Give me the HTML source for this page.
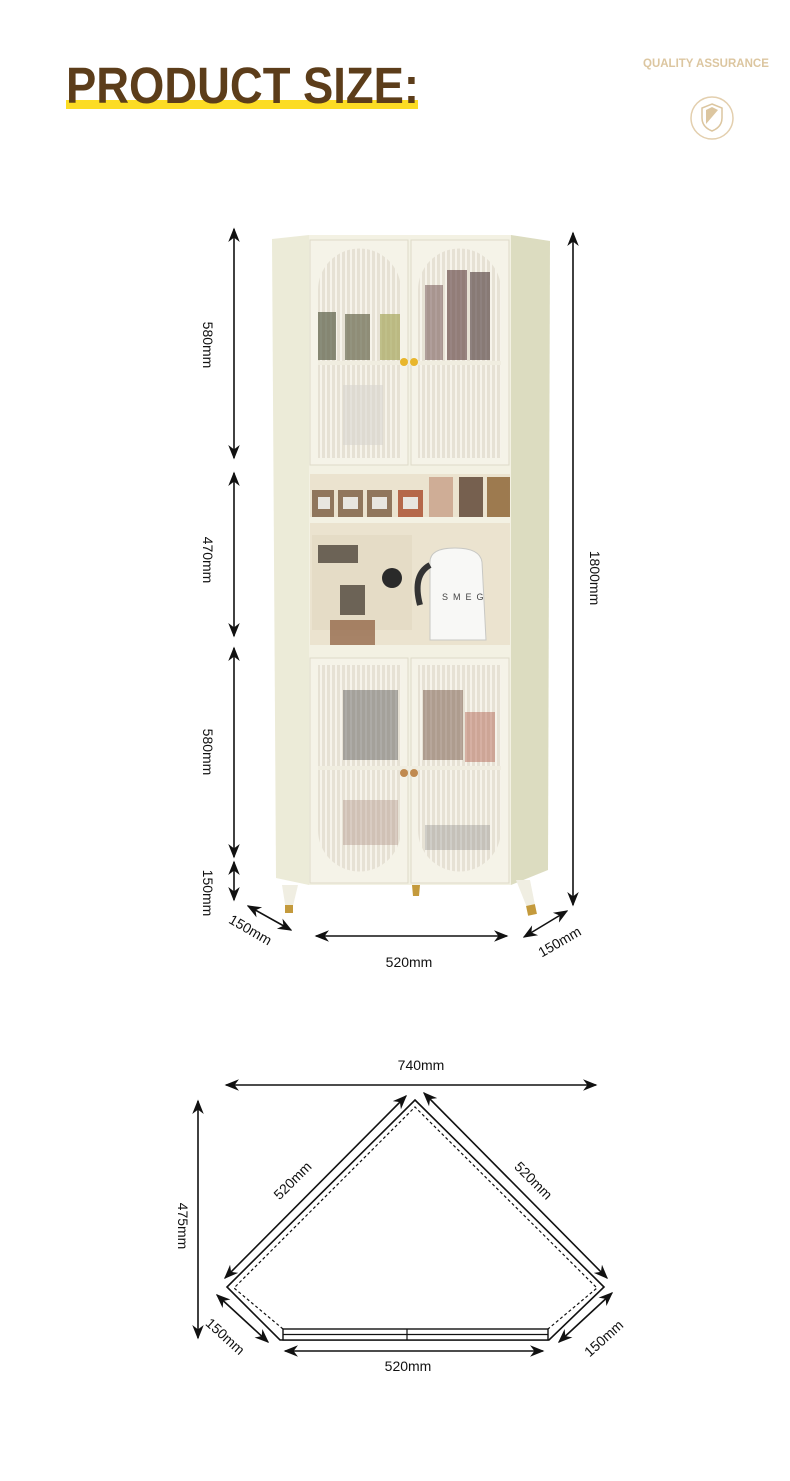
<!DOCTYPE html>
<html><head><meta charset="utf-8"><style>
html,body{margin:0;padding:0;background:#fff;width:790px;height:1481px;overflow:hidden;position:relative;font-family:"Liberation Sans",sans-serif}
.t{position:absolute;left:66px;top:56px;font-size:51px;font-weight:bold;color:#5c3d1a;line-height:60px;z-index:2;transform:scaleX(0.89);transform-origin:0 0;white-space:nowrap}
.u{position:absolute;left:66px;top:100px;width:352px;height:9px;background:#fcdc24;z-index:1}
.q{position:absolute;left:643px;top:58px;font-size:11.5px;font-weight:bold;color:#dcc6a0;white-space:nowrap}
svg{position:absolute;left:0;top:0}
</style></head><body>
<div class="u"></div><div class="t">PRODUCT SIZE:</div>
<div class="q">QUALITY ASSURANCE</div>
<svg width="790" height="1481" viewBox="0 0 790 1481" font-family="Liberation Sans, sans-serif">
<defs>
<marker id="a" viewBox="0 0 10 10" refX="9" refY="5" markerWidth="9" markerHeight="9" orient="auto-start-reverse"><path d="M0,1 L10,5 L0,9 L3,5z" fill="#111"/></marker>
<pattern id="st" width="5" height="10" patternUnits="userSpaceOnUse"><rect width="5" height="10" fill="#e6e1d4"/><rect width="2" height="10" fill="#f6f3ea"/></pattern>
</defs>
<circle cx="712" cy="118" r="21" fill="none" stroke="#e3cfae" stroke-width="1.5"/>
<path d="M712,104 L722,108 L722,118 Q722,127 712,131 Q702,127 702,118 L702,108z" fill="none" stroke="#dcc6a0" stroke-width="1.5"/>
<path d="M706,110 L712,107 L718,110 L706,124z" fill="#dcc6a0"/>
<polygon points="272,239 309,235 309,885 276,878" fill="#ecebd8"/>
<polygon points="511,235 550,241 548,870 511,885" fill="#dcdcc0"/>
<rect x="309" y="235" width="202" height="650" fill="#f3f1e3"/>
<rect x="310" y="240" width="98" height="225" fill="#f5f3e8" stroke="#dedac8"/>
<rect x="411" y="240" width="98" height="225" fill="#f5f3e8" stroke="#dedac8"/>
<path d="M318,458 L318,290 A41,41 0 0 1 401,290 L401,458z" fill="url(#st)"/>
<path d="M418,458 L418,290 A41,41 0 0 1 501,290 L501,458z" fill="url(#st)"/>
<rect x="318" y="312" width="18" height="48" fill="#5b6048" opacity=".7"/>
<rect x="345" y="314" width="25" height="46" fill="#6a6a50" opacity=".7"/>
<rect x="380" y="314" width="20" height="46" fill="#a8a860" opacity=".7"/>
<rect x="447" y="270" width="20" height="90" fill="#5a3b3b" opacity=".6"/>
<rect x="470" y="272" width="20" height="88" fill="#4a3535" opacity=".6"/>
<rect x="425" y="285" width="18" height="75" fill="#6a4a4a" opacity=".5"/>
<rect x="318" y="361" width="183" height="4" fill="#f0ede0"/>
<circle cx="404" cy="362" r="4" fill="#e8b62c"/><circle cx="414" cy="362" r="4" fill="#e8b62c"/>
<rect x="343" y="385" width="40" height="60" fill="#d8d6cf" opacity=".6"/>
<rect x="310" y="470" width="200" height="185" fill="#ebe3cf"/>
<rect x="310" y="470" width="200" height="4" fill="#f3f1e3"/>
<g fill="#7a5c40" opacity=".8"><rect x="312" y="490" width="22" height="27"/><rect x="338" y="490" width="25" height="27"/><rect x="367" y="490" width="25" height="27"/><rect x="398" y="490" width="25" height="27" fill="#a84a2a"/><rect x="429" y="477" width="24" height="40" fill="#c9a088"/><rect x="459" y="477" width="24" height="40" fill="#5a4030"/><rect x="487" y="477" width="23" height="40" fill="#8a6030"/></g>
<g fill="#e8e6e0"><rect x="318" y="497" width="12" height="12"/><rect x="343" y="497" width="15" height="12"/><rect x="372" y="497" width="15" height="12"/><rect x="403" y="497" width="15" height="12"/></g>
<rect x="310" y="517" width="200" height="6" fill="#f3f1e3"/>
<rect x="312" y="535" width="100" height="95" fill="#e5dcc6"/>
<g fill="#3a3028" opacity=".7"><rect x="318" y="545" width="40" height="18"/><rect x="340" y="585" width="25" height="30"/><rect x="330" y="620" width="45" height="28" fill="#8a5a3a"/></g>
<circle cx="392" cy="578" r="10" fill="#2a2a2a"/>
<path d="M430,562 Q430,548 455,548 Q480,548 482,562 L486,640 L430,640z" fill="#f8f8f6" stroke="#c8c8c4"/>
<path d="M430,565 Q412,575 420,605" fill="none" stroke="#333" stroke-width="6"/>
<text x="442" y="600" font-size="9" fill="#444" letter-spacing="5">SMEG</text>
<rect x="310" y="645" width="200" height="10" fill="#f3f1e3"/>
<rect x="310" y="658" width="98" height="225" fill="#f5f3e8" stroke="#dedac8"/>
<rect x="411" y="658" width="98" height="225" fill="#f5f3e8" stroke="#dedac8"/>
<path d="M318,665 L401,665 L401,830 A41,41 0 0 1 318,830z" fill="url(#st)"/>
<path d="M418,665 L501,665 L501,830 A41,41 0 0 1 418,830z" fill="url(#st)"/>
<rect x="343" y="690" width="55" height="70" fill="#555" opacity=".45"/>
<rect x="423" y="690" width="40" height="70" fill="#6a4a3a" opacity=".45"/>
<rect x="465" y="712" width="30" height="50" fill="#a84a3a" opacity=".4"/>
<rect x="343" y="800" width="55" height="45" fill="#b09088" opacity=".4"/>
<rect x="425" y="825" width="65" height="25" fill="#888" opacity=".35"/>
<rect x="318" y="766" width="183" height="4" fill="#f0ede0"/>
<circle cx="404" cy="773" r="4" fill="#c08a50"/><circle cx="414" cy="773" r="4" fill="#c08a50"/>
<polygon points="282,885 298,885 292,910 286,910" fill="#f0eee2"/><rect x="285" y="905" width="8" height="8" fill="#c49a3c"/>
<polygon points="412,885 420,885 419,896 413,896" fill="#c49a3c"/>
<polygon points="516,880 530,880 536,910 528,910" fill="#f0eee2"/><rect x="527" y="905" width="9" height="10" fill="#c49a3c" transform="rotate(-12 531 910)"/>
<g stroke="#111" stroke-width="1.6" fill="none" marker-start="url(#a)" marker-end="url(#a)">
<line x1="234" y1="229" x2="234" y2="458"/>
<line x1="234" y1="473" x2="234" y2="636"/>
<line x1="234" y1="648" x2="234" y2="857"/>
<line x1="234" y1="862" x2="234" y2="900"/>
<line x1="573" y1="233" x2="573" y2="905"/>
<line x1="316" y1="936" x2="507" y2="936"/>
<line x1="248" y1="906" x2="291" y2="930"/>
<line x1="524" y1="937" x2="567" y2="911"/>
<line x1="226" y1="1085" x2="596" y2="1085"/>
<line x1="198" y1="1101" x2="198" y2="1338"/>
<line x1="225" y1="1278" x2="406" y2="1096"/>
<line x1="424" y1="1093" x2="607" y2="1278"/>
<line x1="217" y1="1295" x2="268" y2="1342"/>
<line x1="559" y1="1342" x2="612" y2="1293"/>
<line x1="285" y1="1351" x2="543" y2="1351"/>
</g>
<g font-size="14" fill="#111">
<text transform="translate(203,345) rotate(90)" text-anchor="middle">580mm</text>
<text transform="translate(203,560) rotate(90)" text-anchor="middle">470mm</text>
<text transform="translate(203,752) rotate(90)" text-anchor="middle">580mm</text>
<text transform="translate(203,893) rotate(90)" text-anchor="middle">150mm</text>
<text transform="translate(590,578) rotate(90)" text-anchor="middle">1800mm</text>
<text x="409" y="967" text-anchor="middle">520mm</text>
<text transform="translate(248,934) rotate(30)" text-anchor="middle">150mm</text>
<text transform="translate(562,946) rotate(-30)" text-anchor="middle">150mm</text>
<text x="421" y="1070" text-anchor="middle">740mm</text>
<text transform="translate(178,1226) rotate(90)" text-anchor="middle">475mm</text>
<text transform="translate(296,1184) rotate(-45)" text-anchor="middle">520mm</text>
<text transform="translate(530,1184) rotate(45)" text-anchor="middle">520mm</text>
<text transform="translate(222,1340) rotate(42)" text-anchor="middle">150mm</text>
<text transform="translate(607,1342) rotate(-42)" text-anchor="middle">150mm</text>
<text x="408" y="1371" text-anchor="middle">520mm</text>
</g>
<polygon points="415,1100 604,1287 549,1340 280,1340 227,1287" fill="none" stroke="#111" stroke-width="1.6"/>
<polyline points="283,1329 234,1288 415,1107 597,1288 548,1329" fill="none" stroke="#111" stroke-width="1.2" stroke-dasharray="3,2.5"/>
<rect x="283" y="1329" width="265" height="11" fill="#fff" stroke="#111" stroke-width="1.4"/>
<line x1="283" y1="1334.5" x2="548" y2="1334.5" stroke="#111" stroke-width="1.2"/>
<line x1="407" y1="1329" x2="407" y2="1340" stroke="#111" stroke-width="1.2"/>
</svg>
</body></html>
